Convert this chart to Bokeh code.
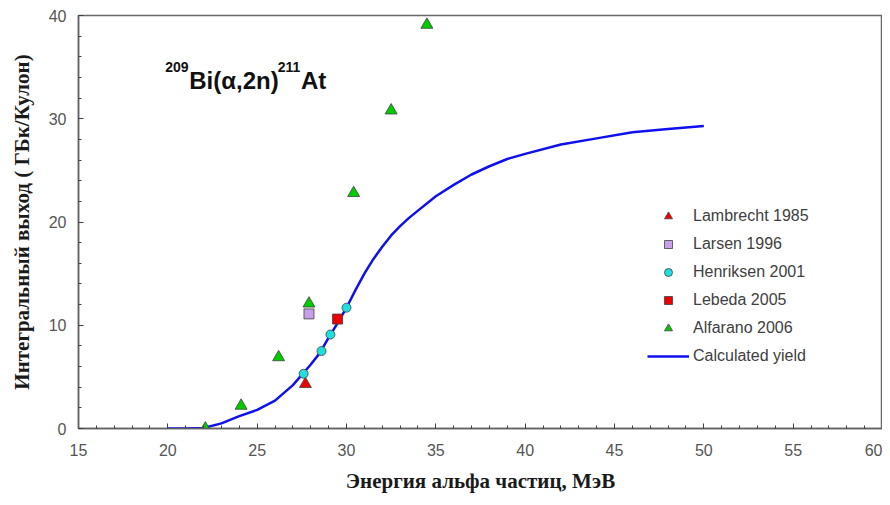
from bokeh.plotting import figure
from bokeh.models import Label, Legend, LegendItem, SingleIntervalTicker, Range1d
from bokeh.embed import file_html
from bokeh.resources import INLINE

# ---- data ----
lambrecht_x = [27.7]
lambrecht_y = [4.3]
larsen_x = [27.9]
larsen_y = [11.1]
henriksen_x = [27.6, 28.6, 29.1, 30.0]
henriksen_y = [5.3, 7.5, 9.1, 11.7]
lebeda_x = [29.5]
lebeda_y = [10.6]
alfarano_x = [22.1, 24.1, 26.2, 27.9, 30.4, 32.5, 34.5]
alfarano_y = [0.0, 2.2, 6.9, 12.1, 22.8, 30.8, 39.1]
calc_x = [20, 21, 22, 23, 24, 25, 26, 27, 28, 28.5, 29, 29.5, 30, 30.5, 31, 31.5, 32, 32.5, 33, 33.5,
          34, 35, 36, 37, 38, 39, 40, 42, 44, 46, 48, 50]
calc_y = [0, 0, 0.05, 0.5, 1.2, 1.8, 2.7, 4.2, 6.2, 7.3, 8.8, 10.2, 11.7, 13.4, 15.0, 16.4, 17.6, 18.7, 19.6, 20.4,
          21.1, 22.5, 23.6, 24.6, 25.4, 26.1, 26.6, 27.5, 28.1, 28.7, 29.0, 29.3]

legend_names = ["Lambrecht 1985", "Larsen 1996", "Henriksen 2001", "Lebeda 2005", "Alfarano 2006", "Calculated yield"]
x_label = "Энергия альфа частиц, МэВ"
y_label = "Интегральный выход ( ГБк/Кулон)"

p = figure(width=882, height=497, output_backend="svg", toolbar_location=None,
           x_range=Range1d(15, 60), y_range=Range1d(0, 40),
           min_border_left=78, min_border_right=0, min_border_top=15, min_border_bottom=69)
p.grid.visible = False
p.outline_line_color = "#6a6a6a"
p.outline_line_width = 1.5

for ax in (p.xaxis[0], p.yaxis[0]):
    ax.axis_line_color = "#606060"
    ax.axis_line_width = 1.5
    ax.major_tick_in = 5
    ax.major_tick_out = 0
    ax.minor_tick_in = 3
    ax.minor_tick_out = 0
    ax.major_tick_line_color = "#404040"
    ax.minor_tick_line_color = "#404040"
    ax.major_label_text_font = "Liberation Sans"
    ax.major_label_text_font_size = "16px"
    ax.major_label_text_color = "#555555"
    ax.axis_label_text_font = "Liberation Serif"
    ax.axis_label_text_font_style = "bold"
    ax.axis_label_text_font_size = "21px"
    ax.axis_label_text_color = "#1a1a1a"

p.xaxis[0].ticker = SingleIntervalTicker(interval=5, num_minor_ticks=5)
p.yaxis[0].ticker = SingleIntervalTicker(interval=10, num_minor_ticks=5)
p.xaxis[0].axis_label = x_label
p.yaxis[0].axis_label = y_label
p.xaxis[0].major_label_standoff = 15
p.xaxis[0].axis_label_standoff = 10
p.yaxis[0].major_label_standoff = 12
p.yaxis[0].axis_label_standoff = 12

r_calc = p.line(calc_x, calc_y, line_color="#1010ee", line_width=2.5)
r_lam = p.scatter(lambrecht_x, lambrecht_y, marker="triangle", size=12,
                  fill_color="#ee0000", line_color="#404040", line_width=0.8)
r_lar = p.scatter(larsen_x, larsen_y, marker="square", size=10,
                  fill_color="#c8a0e8", line_color="#404040", line_width=0.8)
r_hen = p.scatter(henriksen_x, henriksen_y, marker="circle", size=9,
                  fill_color="#22dddd", line_color="#404040", line_width=0.8)
r_leb = p.scatter(lebeda_x, lebeda_y, marker="square", size=10,
                  fill_color="#ee0000", line_color="#404040", line_width=0.8)
r_alf = p.scatter(alfarano_x, alfarano_y, marker="triangle", size=12,
                  fill_color="#00cc00", line_color="#404040", line_width=0.8)

items = [LegendItem(label=n, renderers=[r]) for n, r in
         zip(legend_names, [r_lam, r_lar, r_hen, r_leb, r_alf, r_calc])]
legend = Legend(items=items, location=(569, 62), padding=0, margin=0,
                glyph_width=42, glyph_height=20, label_height=20, spacing=8,
                label_standoff=4, border_line_alpha=0, background_fill_alpha=0,
                label_text_font="Liberation Sans", label_text_font_size="16px",
                label_text_color="#404040")
p.add_layout(legend, "center")

# reaction annotation
ann_font = "Liberation Sans"
p.add_layout(Label(x=19.85, y=35.0, text="209", text_font=ann_font, text_font_size="14px",
                   text_font_style="bold", text_color="#111111", text_baseline="alphabetic"))
p.add_layout(Label(x=21.2, y=33.75, text="Bi(α,2n)", text_font=ann_font, text_font_size="24px",
                   text_font_style="bold", text_color="#111111", text_baseline="alphabetic"))
p.add_layout(Label(x=26.15, y=35.0, text="211", text_font=ann_font, text_font_size="14px",
                   text_font_style="bold", text_color="#111111", text_baseline="alphabetic"))
p.add_layout(Label(x=27.45, y=33.75, text="At", text_font=ann_font, text_font_size="24px",
                   text_font_style="bold", text_color="#111111", text_baseline="alphabetic"))

open("out.html", "w").write(file_html(p, INLINE))
